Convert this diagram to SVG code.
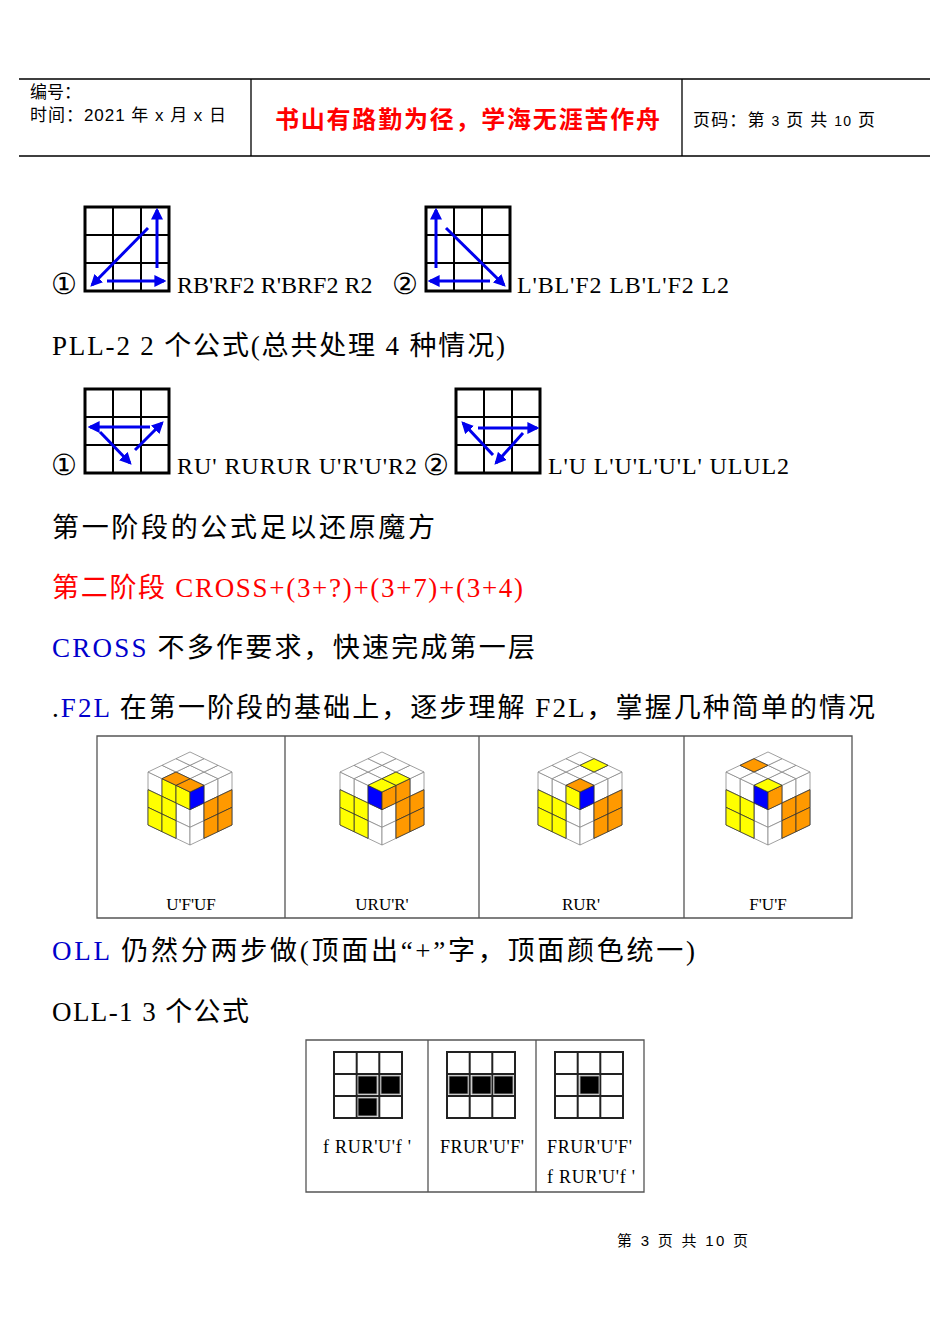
<svg xmlns="http://www.w3.org/2000/svg" xmlns:xlink="http://www.w3.org/1999/xlink" width="950" height="1342" viewBox="0 0 950 1342">
<style>
.s{font-family:"Liberation Serif","Noto Sans CJK SC",serif;fill:#000}
.m{font-size:27px}
.h{font-family:"Liberation Sans","Noto Sans CJK SC",sans-serif;font-size:17px}
.ln{stroke:#000;stroke-width:1.3;fill:none}
.g{fill:#fff;stroke:#000;stroke-width:3}
.gc{stroke:#000;stroke-width:2;fill:none}
.ar{stroke:#0000ee;stroke-width:3;fill:none;marker-end:url(#ah)}
.tb{fill:none;stroke:#555;stroke-width:1.3}
.w{fill:#fff;stroke:#888;stroke-width:0.8}
.y{fill:#ffff00;stroke:#333;stroke-width:0.8}
.o{fill:#ff9900;stroke:#333;stroke-width:0.8}
.b{fill:#0000ff;stroke:#333;stroke-width:0.8}
rect.w,rect.y,rect.o,rect.b{vector-effect:non-scaling-stroke}
.og{fill:#fff;stroke:#222;stroke-width:2}
.ok{fill:#000;stroke:#999;stroke-width:1}
.c{font-family:"DejaVu Serif",serif;font-size:29px;font-weight:300}
</style>
<defs>
<marker id="ah" viewBox="0 0 10 10" refX="8" refY="5" markerWidth="12" markerHeight="12" markerUnits="userSpaceOnUse" orient="auto"><path d="M0,0L10,5L0,10z" fill="#0000ee"/></marker>
<g id="grid"><rect class="g" x="0" y="0" width="84" height="84"/><path class="gc" d="M28,0V84M56,0V84M0,28H84M0,56H84"/></g>
<g id="og"><rect class="og" x="0" y="0" width="68" height="66"/><path class="og" d="M22.7,0V66M45.3,0V66M0,22H68M0,44H68"/></g>
<g id="face"><rect class="w" x="0" y="0" width="1" height="1"/><rect class="w" x="1" y="0" width="1" height="1"/><rect class="w" x="2" y="0" width="1" height="1"/><rect class="w" x="0" y="1" width="1" height="1"/><rect class="w" x="1" y="1" width="1" height="1"/><rect class="w" x="2" y="1" width="1" height="1"/><rect class="w" x="0" y="2" width="1" height="1"/><rect class="w" x="1" y="2" width="1" height="1"/><rect class="w" x="2" y="2" width="1" height="1"/></g>
<g id="cube"><g transform="matrix(-14,-6.67,0,17.67,0,0)"><use xlink:href="#face"/></g><g transform="matrix(14,-6.67,0,17.67,0,0)"><use xlink:href="#face"/></g><g transform="matrix(-14,-6.67,14,-6.67,0,0)"><use xlink:href="#face"/></g></g>
</defs>

<g id="header">
<path class="ln" d="M19,79H930M19,156H930M251,79V156M682,79V156"/>
<text class="h" x="30" y="98">编号：</text>
<text class="h" x="30" y="121" textLength="196" lengthAdjust="spacing">时间：2021 年 x 月 x 日</text>
<text x="275" y="128" textLength="385" lengthAdjust="spacing" style="font-family:'Noto Sans CJK SC',sans-serif;font-size:24px;font-weight:bold;fill:#ff0000">书山有路勤为径，学海无涯苦作舟</text>
<text class="h" x="693" y="126" textLength="182" lengthAdjust="spacing">页码：第 <tspan style="font-size:14px">3</tspan> 页  共 <tspan style="font-size:14px">10</tspan> 页</text>
</g>

<g id="pll1">
<text class="c" x="51" y="294">①</text>
<use xlink:href="#grid" x="85" y="207"/>
<text class="s" x="177" y="293" style="font-size:24px">RB'RF2 R'BRF2 R2</text>
<text class="c" x="392" y="294">②</text>
<use xlink:href="#grid" x="426" y="207"/>
<text class="s" x="517" y="293" textLength="212" lengthAdjust="spacing" style="font-size:24px">L'BL'F2 LB'L'F2 L2</text>
</g>
<text id="t-pll2" class="s m" x="52" y="355" textLength="453" lengthAdjust="spacing">PLL-2  2 个公式(总共处理 4 种情况)</text>
<g id="pll2">
<text class="c" x="51" y="475">①</text>
<use xlink:href="#grid" x="85" y="389"/>
<text class="s" x="177" y="474" textLength="240" lengthAdjust="spacing" style="font-size:24px">RU' RURUR U'R'U'R2</text>
<text class="c" x="423" y="475">②</text>
<use xlink:href="#grid" x="456" y="389"/>
<text class="s" x="548" y="474" textLength="241" lengthAdjust="spacing" style="font-size:24px">L'U L'U'L'U'L' ULUL2</text>
</g>
<g id="connectors">
<path class="ar" d="M148,228L92,285"/>
<path class="ar" d="M107,281H164"/>
<path class="ar" d="M157,268V210"/>
<path class="ar" d="M436,268V210"/>
<path class="ar" d="M490,281H430"/>
<path class="ar" d="M446,228L504,285"/>
<path class="ar" d="M150,427H90"/>
<path class="ar" d="M100,432L130,463"/>
<path class="ar" d="M135,450L162,423"/>
<path class="ar" d="M478,428H537"/>
<path class="ar" d="M493,455L463,423"/>
<path class="ar" d="M523,433L496,463"/>
</g>
<text class="s m" x="52" y="537" textLength="383" lengthAdjust="spacing">第一阶段的公式足以还原魔方</text>
<text class="s m" x="52" y="597" textLength="471" lengthAdjust="spacing" fill="#ff0000" style="fill:#ff0000">第二阶段  CROSS+(3+?)+(3+7)+(3+4)</text>
<text class="s m" x="52" y="657" textLength="483" lengthAdjust="spacing"><tspan fill="#0000cc">CROSS</tspan> 不多作要求，快速完成第一层</text>
<text class="s m" x="52" y="717" textLength="823" lengthAdjust="spacing">.<tspan fill="#0000cc">F2L</tspan> 在第一阶段的基础上，逐步理解 F2L，掌握几种简单的情况</text>

<g id="f2l-table">
<path class="tb" d="M97,736H852V918H97ZM285,736V918M479,736V918M684,736V918"/>
<g transform="translate(190,792)"><use xlink:href="#cube"/>
<g transform="matrix(-14,-6.67,0,17.67,0,0)"><rect class="y" x="2" y="1" width="1" height="1"/><rect class="y" x="2" y="2" width="1" height="1"/><rect class="y" x="1" y="0" width="1" height="1"/><rect class="y" x="1" y="1" width="1" height="1"/><rect class="y" x="1" y="2" width="1" height="1"/><rect class="y" x="0" y="0" width="1" height="1"/></g>
<g transform="matrix(14,-6.67,0,17.67,0,0)"><rect class="b" x="0" y="0" width="1" height="1"/><rect class="o" x="1" y="1" width="1" height="1"/><rect class="o" x="1" y="2" width="1" height="1"/><rect class="o" x="2" y="1" width="1" height="1"/><rect class="o" x="2" y="2" width="1" height="1"/></g>
<g transform="matrix(-14,-6.67,14,-6.67,0,0)"><rect class="o" x="0" y="0" width="1" height="1"/><rect class="o" x="1" y="0" width="1" height="1"/></g>
</g>
<g transform="translate(382,792)"><use xlink:href="#cube"/>
<g transform="matrix(-14,-6.67,0,17.67,0,0)"><rect class="b" x="0" y="0" width="1" height="1"/><rect class="y" x="1" y="1" width="1" height="1"/><rect class="y" x="1" y="2" width="1" height="1"/><rect class="y" x="2" y="1" width="1" height="1"/><rect class="y" x="2" y="2" width="1" height="1"/></g>
<g transform="matrix(14,-6.67,0,17.67,0,0)"><rect class="o" x="0" y="0" width="1" height="1"/><rect class="o" x="1" y="0" width="1" height="1"/><rect class="o" x="1" y="1" width="1" height="1"/><rect class="o" x="1" y="2" width="1" height="1"/><rect class="o" x="2" y="1" width="1" height="1"/><rect class="o" x="2" y="2" width="1" height="1"/></g>
<g transform="matrix(-14,-6.67,14,-6.67,0,0)"><rect class="y" x="0" y="0" width="1" height="1"/><rect class="y" x="0" y="1" width="1" height="1"/></g>
</g>
<g transform="translate(580,792)"><use xlink:href="#cube"/>
<g transform="matrix(-14,-6.67,0,17.67,0,0)"><rect class="y" x="0" y="0" width="1" height="1"/><rect class="y" x="1" y="1" width="1" height="1"/><rect class="y" x="1" y="2" width="1" height="1"/><rect class="y" x="2" y="1" width="1" height="1"/><rect class="y" x="2" y="2" width="1" height="1"/></g>
<g transform="matrix(14,-6.67,0,17.67,0,0)"><rect class="b" x="0" y="0" width="1" height="1"/><rect class="o" x="1" y="1" width="1" height="1"/><rect class="o" x="1" y="2" width="1" height="1"/><rect class="o" x="2" y="1" width="1" height="1"/><rect class="o" x="2" y="2" width="1" height="1"/></g>
<g transform="matrix(-14,-6.67,14,-6.67,0,0)"><rect class="o" x="0" y="0" width="1" height="1"/><rect class="y" x="1" y="2" width="1" height="1"/></g>
</g>
<g transform="translate(768,792)"><use xlink:href="#cube"/>
<g transform="matrix(-14,-6.67,0,17.67,0,0)"><rect class="b" x="0" y="0" width="1" height="1"/><rect class="y" x="1" y="1" width="1" height="1"/><rect class="y" x="1" y="2" width="1" height="1"/><rect class="y" x="2" y="1" width="1" height="1"/><rect class="y" x="2" y="2" width="1" height="1"/></g>
<g transform="matrix(14,-6.67,0,17.67,0,0)"><rect class="o" x="0" y="0" width="1" height="1"/><rect class="o" x="1" y="1" width="1" height="1"/><rect class="o" x="1" y="2" width="1" height="1"/><rect class="o" x="2" y="1" width="1" height="1"/><rect class="o" x="2" y="2" width="1" height="1"/></g>
<g transform="matrix(-14,-6.67,14,-6.67,0,0)"><rect class="y" x="0" y="0" width="1" height="1"/><rect class="o" x="2" y="1" width="1" height="1"/></g>
</g>
<g class="s" style="font-size:17px" text-anchor="middle">
<text x="191" y="910">U'F'UF</text><text x="382" y="910">URU'R'</text><text x="581" y="910">RUR'</text><text x="768" y="910">F'U'F</text>
</g>
</g>

<text class="s m" x="52" y="960" textLength="643" lengthAdjust="spacing"><tspan fill="#0000cc">OLL</tspan> 仍然分两步做(顶面出“+”字，顶面颜色统一)</text>
<text class="s m" x="52" y="1021" textLength="197" lengthAdjust="spacing">OLL-1 3 个公式</text>

<g id="oll-table">
<path class="tb" d="M306,1040H644V1192H306ZM428,1040V1192M536,1040V1192"/>
<use xlink:href="#og" x="334" y="1052"/>
<rect class="ok" x="358" y="1076" width="19" height="18"/><rect class="ok" x="381" y="1076" width="19" height="18"/><rect class="ok" x="358" y="1098" width="19" height="18"/>
<use xlink:href="#og" x="447" y="1052"/>
<rect class="ok" x="449" y="1076" width="19" height="18"/><rect class="ok" x="472" y="1076" width="19" height="18"/><rect class="ok" x="494" y="1076" width="19" height="18"/>
<use xlink:href="#og" x="555" y="1052"/>
<rect class="ok" x="580" y="1076" width="19" height="18"/>
<g class="s" style="font-size:18px">
<text x="323" y="1153" textLength="88" lengthAdjust="spacing">f RUR'U'f '</text>
<text x="440" y="1153" textLength="84" lengthAdjust="spacing">FRUR'U'F'</text>
<text x="547" y="1153" textLength="85" lengthAdjust="spacing">FRUR'U'F'</text>
<text x="547" y="1183" textLength="88" lengthAdjust="spacing">f RUR'U'f '</text>
</g>
</g>

<text x="617" y="1246" textLength="131" lengthAdjust="spacing" style="font-family:'Liberation Sans','Noto Sans CJK SC',sans-serif;font-size:15px">第 3 页 共 10 页</text>
</svg>
